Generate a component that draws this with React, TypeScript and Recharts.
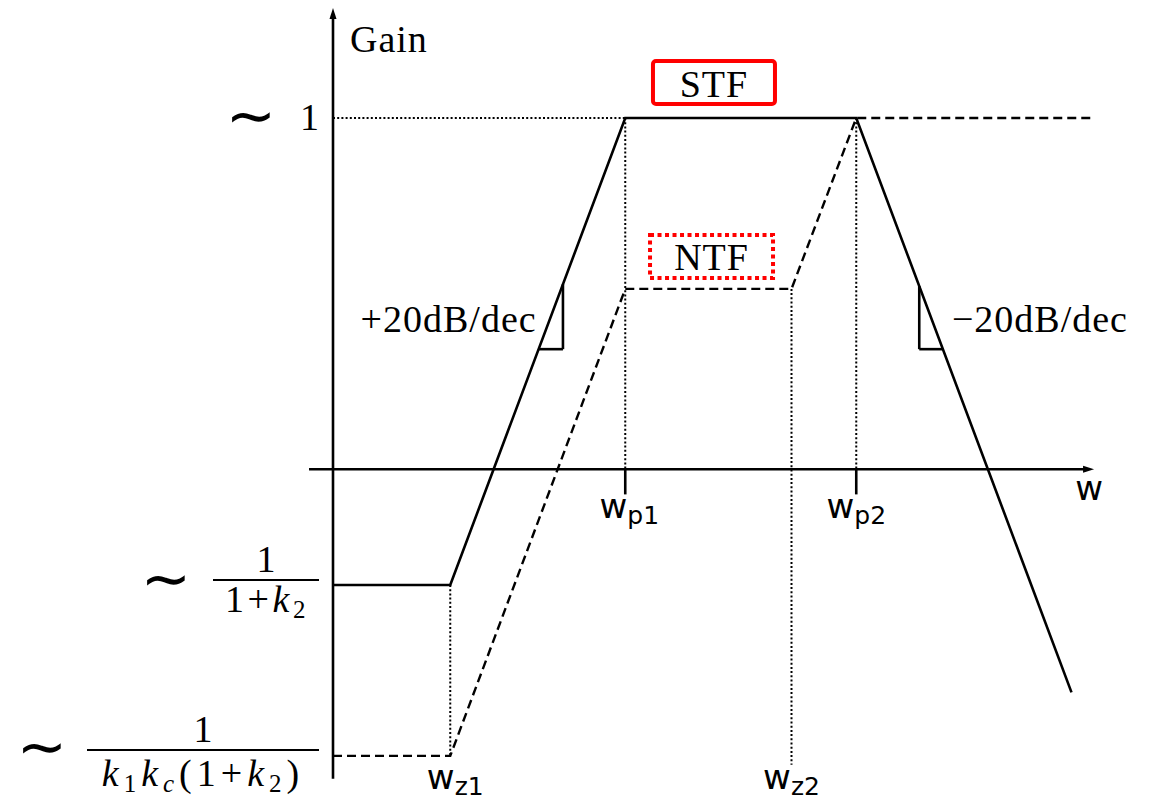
import React from "react";
import {
  ComposedChart,
  Line,
  ReferenceDot,
  ReferenceLine,
  XAxis,
  YAxis,
} from "recharts";

// x: log10(w) in decades from the gain axis, y: log10(gain)
const WZ1 = 0.67;
const WP1 = 1.67;
const WZ2 = 2.62;
const WP2 = 2.99;

const STF_FLOOR = -1; // 1/(1+k2)
const NTF_FLOOR = -1.366; // 1/(k1 kc (1+k2))
const NTF_SHELF = -0.366;

const stfX = [0, WZ1, WP1, WP2, 4.22];
const stfY = [-1, -1, 0, 0, -1.23];
const ntfX = [0, WZ1, WP1, WZ2, WP2, 4.33];
const ntfY = [-1.366, -1.366, -0.366, -0.366, 0, 0];

// axis extents
const GAIN_TOP = 0.2355;
const GAIN_BOTTOM = -1.415;
const W_LEFT = -0.137;
const W_RIGHT = 4.349;
const W_AXIS = -0.752;

// slope markers (one decade per decade)
const riseTri = [
  { x: 1.175, y: -0.495 },
  { x: 1.314, y: -0.495 },
  { x: 1.314, y: -0.356 },
];
const fallTri = [
  { x: 3.35, y: -0.36 },
  { x: 3.35, y: -0.495 },
  { x: 3.485, y: -0.495 },
];

const stfData = stfX.map((x, i) => ({ x, y: stfY[i] }));
const ntfData = ntfX.map((x, i) => ({ x, y: ntfY[i] }));

const W = 1158;
const H = 800;
// 175 px per decade across, 467 px per decade up
const X_DOMAIN = [-333 / 175, (W - 333) / 175];
const Y_DOMAIN = [-(H - 118) / 467, 118 / 467];

const ink = "#000";
const red = "#ff0000";
const serif = "'Liberation Serif', 'DejaVu Serif', serif";
const sans = "'DejaVu Sans', sans-serif";
const FS = 38;
const SUB = 25;

function arrowLine(p: any) {
  const { x1, y1, x2, y2 } = p;
  const a = Math.atan2(y2 - y1, x2 - x1);
  const len = 11;
  const half = 3.5;
  const bx = x2 - len * Math.cos(a);
  const by = y2 - len * Math.sin(a);
  const nx = -Math.sin(a) * half;
  const ny = Math.cos(a) * half;
  return (
    <g>
      <line x1={x1} y1={y1} x2={bx + Math.cos(a) * 2} y2={by + Math.sin(a) * 2} stroke={ink} strokeWidth={2.6} />
      <path d={`M${x2},${y2}L${bx + nx},${by + ny}L${bx - nx},${by - ny}Z`} fill={ink} />
    </g>
  );
}

const at = (key: string, x: number, y: number, draw: (cx: number, cy: number) => React.ReactElement) => (
  <ReferenceDot key={key} x={x} y={y} r={0} ifOverflow="visible" shape={(p: any) => draw(p.cx, p.cy)} />
);

const seg = (key: string, a: { x: number; y: number }, b: { x: number; y: number }, style: any) => (
  <ReferenceLine key={key} segment={[a, b]} ifOverflow="visible" stroke={ink} {...style} />
);

const dotted = { strokeWidth: 2, strokeDasharray: "2 2.2" };
const solid = { strokeWidth: 2.6 };

function Tilde({ x, y }: { x: number; y: number }) {
  return (
    <text x={x} y={y + 18} textAnchor="middle" fontFamily={sans} fontSize={60}>
      ∼
    </text>
  );
}

function freqLabel(key: string, x: number, y: number, sub: string, dx: number, dy: number) {
  return at(key, x, y, (cx, cy) => (
    <text x={cx + dx} y={cy + dy} textAnchor="middle" fontFamily={sans} fontSize={34}>
      w
      <tspan fontSize={SUB} dy={6}>
        {sub}
      </tspan>
    </text>
  ));
}

export default function App() {
  return (
    <div style={{ position: "absolute", left: 0, top: 0, width: W, height: H, background: "#fff" }}>
      <ComposedChart width={W} height={H} margin={{ top: 0, right: 0, bottom: 0, left: 0 }}>
        <XAxis type="number" dataKey="x" domain={X_DOMAIN} allowDataOverflow hide />
        <YAxis type="number" dataKey="y" domain={Y_DOMAIN} allowDataOverflow hide />

        {/* axes */}
        <ReferenceLine
          segment={[{ x: 0, y: GAIN_BOTTOM }, { x: 0, y: GAIN_TOP }]}
          ifOverflow="visible"
          shape={arrowLine}
        />
        <ReferenceLine
          segment={[{ x: W_LEFT, y: W_AXIS }, { x: W_RIGHT, y: W_AXIS }]}
          ifOverflow="visible"
          shape={arrowLine}
        />

        {/* guides */}
        {seg("g1", { x: 0, y: 0 }, { x: WP1, y: 0 }, dotted)}
        {seg("g2", { x: WP1, y: 0 }, { x: WP1, y: W_AXIS }, dotted)}
        {seg("g3", { x: WP2, y: 0 }, { x: WP2, y: W_AXIS }, dotted)}
        {seg("g4", { x: WZ1, y: STF_FLOOR }, { x: WZ1, y: NTF_FLOOR }, dotted)}
        {seg("g5", { x: WZ2, y: NTF_SHELF }, { x: WZ2, y: -1.385 }, dotted)}
        {seg("t1", { x: WP1, y: W_AXIS }, { x: WP1, y: -0.806 }, solid)}
        {seg("t2", { x: WP2, y: W_AXIS }, { x: WP2, y: -0.806 }, solid)}

        {/* slope markers */}
        {seg("r1", riseTri[0], riseTri[1], solid)}
        {seg("r2", riseTri[1], riseTri[2], solid)}
        {seg("f1", fallTri[0], fallTri[1], solid)}
        {seg("f2", fallTri[1], fallTri[2], solid)}

        <Line
          data={ntfData}
          dataKey="y"
          type="linear"
          stroke={ink}
          strokeWidth={2.4}
          strokeDasharray="9 5"
          dot={false}
          activeDot={false}
          isAnimationActive={false}
        />
        <Line
          data={stfData}
          dataKey="y"
          type="linear"
          stroke={ink}
          strokeWidth={2.6}
          dot={false}
          activeDot={false}
          isAnimationActive={false}
        />

        {at("gain", 0, GAIN_TOP, (cx, cy) => (
          <text x={cx + 17} y={cy + 44} fontFamily={serif} fontSize={FS} letterSpacing={1}>
            Gain
          </text>
        ))}

        {at("one", 0, 0, (cx, cy) => (
          <g>
            <Tilde x={cx - 82} y={cy} />
            <text x={cx - 14} y={cy + 12} textAnchor="end" fontFamily={serif} fontSize={FS}>
              1
            </text>
          </g>
        ))}

        {at("stfFloor", 0, STF_FLOOR, (cx, cy) => (
          <g fontFamily={serif} fontSize={FS}>
            <Tilde x={cx - 167} y={cy - 4} />
            <text x={cx - 67} y={cy - 13} textAnchor="middle">
              1
            </text>
            <line x1={cx - 120} x2={cx - 14} y1={cy - 5} y2={cy - 5} stroke={ink} strokeWidth={2} />
            <text x={cx - 66} y={cy + 27} textAnchor="middle" letterSpacing={3.5}>
              1+<tspan fontStyle="italic">k</tspan>
              <tspan fontSize={SUB} dy={6}>
                2
              </tspan>
            </text>
          </g>
        ))}

        {at("ntfFloor", 0, NTF_FLOOR, (cx, cy) => (
          <g fontFamily={serif} fontSize={FS}>
            <Tilde x={cx - 291} y={cy - 7} />
            <text x={cx - 130} y={cy - 14} textAnchor="middle">
              1
            </text>
            <line x1={cx - 246} x2={cx - 14} y1={cy - 6} y2={cy - 6} stroke={ink} strokeWidth={2} />
            <text x={cx - 130} y={cy + 30} textAnchor="middle" letterSpacing={5}>
              <tspan fontStyle="italic">k</tspan>
              <tspan fontSize={SUB} dy={6}>
                1
              </tspan>
              <tspan fontStyle="italic" dy={-6}>
                k
              </tspan>
              <tspan fontSize={SUB} fontStyle="italic" dy={6}>
                c
              </tspan>
              <tspan dy={-6}>(1+</tspan>
              <tspan fontStyle="italic">k</tspan>
              <tspan fontSize={SUB} dy={6}>
                2
              </tspan>
              <tspan dy={-6}>)</tspan>
            </text>
          </g>
        ))}

        {at("rise", riseTri[0].x, riseTri[0].y, (cx, cy) => (
          <text x={cx - 2} y={cy - 17} textAnchor="end" fontFamily={serif} fontSize={FS} letterSpacing={1}>
            +20dB/dec
          </text>
        ))}
        {at("fall", fallTri[2].x, fallTri[2].y, (cx, cy) => (
          <text x={cx + 9} y={cy - 17} fontFamily={serif} fontSize={FS} letterSpacing={1}>
            −20dB/dec
          </text>
        ))}

        {/* transfer function tags */}
        {at("stfTag", 2.177, 0.076, (cx, cy) => (
          <g>
            <rect x={cx - 61} y={cy - 21.5} width={122} height={43} rx={3} fill="none" stroke={red} strokeWidth={4} />
            <text x={cx} y={cy + 14} textAnchor="middle" fontFamily={serif} fontSize={FS} letterSpacing={1}>
              STF
            </text>
          </g>
        ))}
        {at("ntfTag", 2.163, -0.2966, (cx, cy) => (
          <g>
            <rect
              x={cx - 61.5}
              y={cy - 21.5}
              width={123}
              height={43}
              fill="none"
              stroke={red}
              strokeWidth={4}
              strokeDasharray="4 3.5"
            />
            <text x={cx} y={cy + 13} textAnchor="middle" fontFamily={serif} fontSize={FS} letterSpacing={1}>
              NTF
            </text>
          </g>
        ))}

        {/* frequency labels */}
        {at("wAxis", W_RIGHT, W_AXIS, (cx, cy) => (
          <text x={cx - 5} y={cy + 31} textAnchor="middle" fontFamily={sans} fontSize={34}>
            w
          </text>
        ))}
        {freqLabel("wp1", WP1, W_AXIS, "p1", 4, 49)}
        {freqLabel("wp2", WP2, W_AXIS, "p2", 0, 49)}
        {freqLabel("wz1", WZ1, NTF_FLOOR, "z1", 5, 33)}
        {freqLabel("wz2", WZ2, NTF_FLOOR, "z2", 0, 33)}
      </ComposedChart>
    </div>
  );
}
